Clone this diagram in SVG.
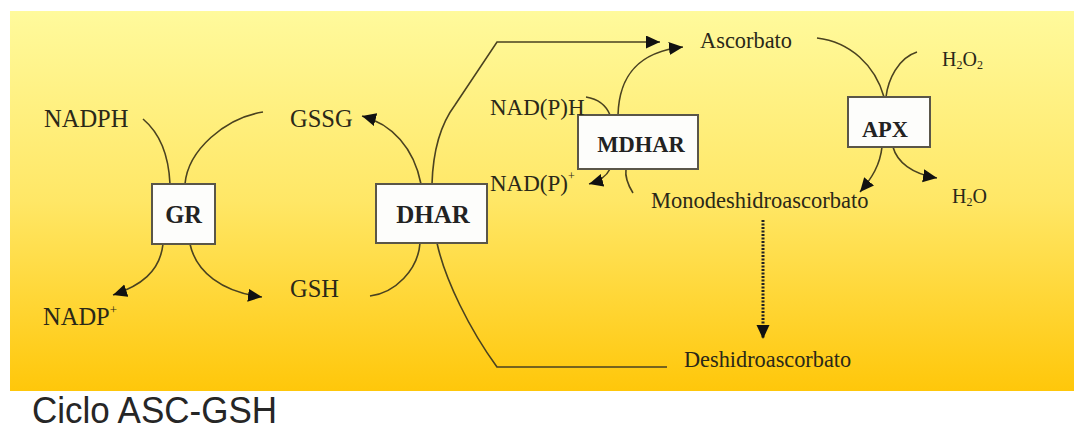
<svg xmlns="http://www.w3.org/2000/svg" width="1074" height="437" viewBox="0 0 1074 437">
<defs>
<linearGradient id="bg" x1="0" y1="0" x2="0" y2="1">
<stop offset="0" stop-color="#FFFA9C"/>
<stop offset="0.5" stop-color="#FFE766"/>
<stop offset="1" stop-color="#FFC70A"/>
</linearGradient>
<marker id="ah" markerUnits="userSpaceOnUse" markerWidth="16" markerHeight="14" refX="14" refY="6.5" orient="auto" viewBox="0 0 16 14">
<path d="M0,0 L14,6.5 L0,13 z" fill="#111"/>
</marker>
<style>
.t{font-family:"Liberation Serif","Times New Roman",serif;fill:#2a2818}
.b{font-family:"Liberation Serif","Times New Roman",serif;font-weight:bold;fill:#222;text-anchor:middle}
.box{fill:#fdfdfb;stroke:#5a5648;stroke-width:2}
.c{fill:none;stroke:#4a4220;stroke-width:1.6}
.d{fill:none;stroke:#222;stroke-width:3;stroke-dasharray:2 1.5}
</style>
</defs>
<rect x="10" y="11" width="1064" height="380" fill="url(#bg)"/>
<g id="connectors">
<path class="c" d="M143,119 Q168,140 170,184"/>
<path class="c" d="M263,112 C225,118 188,150 185,184"/>
<path class="c" marker-end="url(#ah)" d="M163,244 C160,272 140,286 113,295"/>
<path class="c" marker-end="url(#ah)" d="M190,244 C196,272 222,292 262,297"/>
<path class="c" marker-end="url(#ah)" d="M421,184 C414,148 392,124 362,116"/>
<path class="c" marker-end="url(#ah)" d="M432,184 C433,150 440,125 455,105 L497,42 L660,42"/>
<path class="c" d="M370,296 C395,293 418,270 420,243"/>
<path class="c" d="M437,243 C445,280 470,330 497,367 L667,367"/>
<path class="c" d="M586,97 Q604,100 610,115"/>
<path class="c" marker-end="url(#ah)" d="M618,115 C619,78 636,52 683,47"/>
<path class="c" marker-end="url(#ah)" d="M610,169 C606,177 600,181 589,184"/>
<path class="c" d="M633,193 C628,185 625,176 626,169"/>
<path class="c" d="M817,38 C850,42 875,65 884,97"/>
<path class="c" d="M917,52 C898,58 888,80 886,97"/>
<path class="c" marker-end="url(#ah)" d="M882,147 C880,165 872,178 860,192"/>
<path class="c" marker-end="url(#ah)" d="M893,147 C897,162 912,174 937,178"/>
<path class="d" marker-end="url(#ah)" d="M763,220 L763,339"/>
</g>
<g id="GR">
<rect class="box" x="152" y="184" width="63" height="60"/>
<text class="b" x="183.5" y="223" font-size="24.5">GR</text>
</g>
<g id="DHAR">
<rect class="box" x="376" y="184" width="111" height="59"/>
<text class="b" x="433" y="223" font-size="25">DHAR</text>
</g>
<g id="MDHAR">
<rect class="box" x="578" y="115" width="120" height="54"/>
<text class="b" x="641" y="152" font-size="22.5">MDHAR</text>
</g>
<g id="APX">
<rect class="box" x="848" y="97" width="82" height="50"/>
<text class="b" x="885" y="137" font-size="22.5">APX</text>
</g>
<g id="NADPH"><text class="t" x="44" y="127" font-size="24.5">NADPH</text></g>
<g id="GSSG"><text class="t" x="290" y="127" font-size="24.5">GSSG</text></g>
<g id="NADP"><text class="t" x="43" y="325" font-size="24.5">NADP<tspan font-size="13" dy="-11">+</tspan></text></g>
<g id="GSH"><text class="t" x="290" y="297" font-size="24.5">GSH</text></g>
<g id="NADPH2"><text class="t" x="490" y="115" font-size="23">NAD(P)H</text></g>
<g id="NADP2"><text class="t" x="490" y="191" font-size="23">NAD(P)<tspan font-size="12" dy="-11">+</tspan></text></g>
<g id="Ascorbato"><text class="t" x="700" y="48" font-size="22.4">Ascorbato</text></g>
<g id="H2O2"><text class="t" x="942" y="66" font-size="20">H<tspan font-size="12" dy="3">2</tspan><tspan dy="-3">O</tspan><tspan font-size="12" dy="3">2</tspan></text></g>
<g id="H2O"><text class="t" x="952" y="203" font-size="20">H<tspan font-size="12" dy="3">2</tspan><tspan dy="-3">O</tspan></text></g>
<g id="Monodeshidroascorbato"><text class="t" x="651" y="208" font-size="22.5">Monodeshidroascorbato</text></g>
<g id="Deshidroascorbato"><text class="t" x="684" y="367" font-size="22.3">Deshidroascorbato</text></g>
<text x="32" y="423" font-family="'Liberation Sans',Arial,sans-serif" font-size="37" fill="#262626" textLength="245" lengthAdjust="spacingAndGlyphs">Ciclo ASC-GSH</text>
</svg>
